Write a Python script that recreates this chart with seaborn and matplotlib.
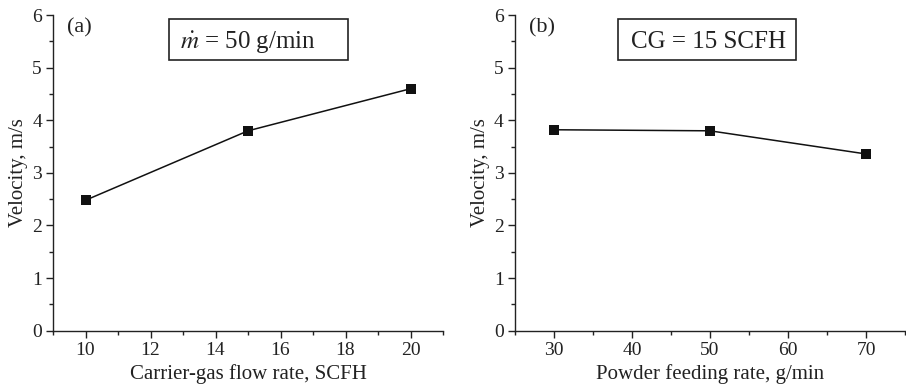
import matplotlib
matplotlib.use("Agg")
import matplotlib.pyplot as plt
import seaborn as sns
import pandas as pd
from matplotlib.ticker import MultipleLocator
from matplotlib.patches import Rectangle

sns.set_style("ticks")
plt.rcParams['font.family'] = ['Liberation Serif', 'DejaVu Serif']
plt.rcParams['mathtext.fontset'] = 'stix'

carrier_gas = [10, 15, 20]
velocity_a = [2.48, 3.80, 4.60]
powder_rate = [30, 50, 70]
velocity_b = [3.82, 3.80, 3.36]

fig = plt.figure(figsize=(9.06, 3.87), dpi=100)
ax1 = fig.add_axes([0.0585, 0.1455, 0.4305, 0.8155])
ax2 = fig.add_axes([0.5684, 0.1455, 0.4305, 0.8155])

df_a = pd.DataFrame({"x": carrier_gas, "y": velocity_a})
df_b = pd.DataFrame({"x": powder_rate, "y": velocity_b})

for ax, df in ((ax1, df_a), (ax2, df_b)):
    sns.lineplot(data=df, x="x", y="y", ax=ax, color="#111111", marker="s",
                 markersize=7.5, markeredgewidth=0, linewidth=1.1)

ax1.set_xlim(9, 21)
ax1.xaxis.set_major_locator(MultipleLocator(2))
ax1.xaxis.set_minor_locator(MultipleLocator(1))
ax2.set_xlim(25, 75)
ax2.xaxis.set_major_locator(MultipleLocator(10))
ax2.xaxis.set_minor_locator(MultipleLocator(5))

for ax in (ax1, ax2):
    ax.set_ylim(0, 6)
    ax.yaxis.set_major_locator(MultipleLocator(1))
    ax.yaxis.set_minor_locator(MultipleLocator(0.5))
    sns.despine(ax=ax)
    for s in ("left", "bottom"):
        ax.spines[s].set_color("#222222")
        ax.spines[s].set_linewidth(1.0)
    ax.tick_params(which="major", direction="out", length=5, width=1.0,
                   labelsize=14, colors="#222222", pad=3)
    ax.tick_params(which="minor", direction="out", length=3, width=1.0,
                   colors="#222222")
    ax.set_ylabel("Velocity, m/s", fontsize=15, color="#222222", labelpad=3)

ax1.set_xlabel("Carrier-gas flow rate, SCFH", fontsize=15, color="#222222", labelpad=4)
ax2.set_xlabel("Powder feeding rate, g/min", fontsize=15, color="#222222", labelpad=4)

ax1.text(0.035, 0.99, "(a)", transform=ax1.transAxes, fontsize=16,
         va="top", ha="left", color="#222222")
ax2.text(0.035, 0.99, "(b)", transform=ax2.transAxes, fontsize=16,
         va="top", ha="left", color="#222222")

ax1.add_patch(Rectangle((0.297, 0.857), 0.459, 0.130, transform=ax1.transAxes,
                        facecolor="white", edgecolor="#222222", linewidth=1.2, clip_on=False))
ax1.text(0.326, 0.915, r"$\dot{m}$ = 50 g/min", transform=ax1.transAxes, fontsize=18,
         va="center", ha="left", color="#222222")
ax2.add_patch(Rectangle((0.263, 0.857), 0.457, 0.130, transform=ax2.transAxes,
                        facecolor="white", edgecolor="#222222", linewidth=1.2, clip_on=False))
ax2.text(0.297, 0.915, "CG = 15 SCFH", transform=ax2.transAxes, fontsize=18,
         va="center", ha="left", color="#222222")

fig.savefig("out.png", dpi=100)
